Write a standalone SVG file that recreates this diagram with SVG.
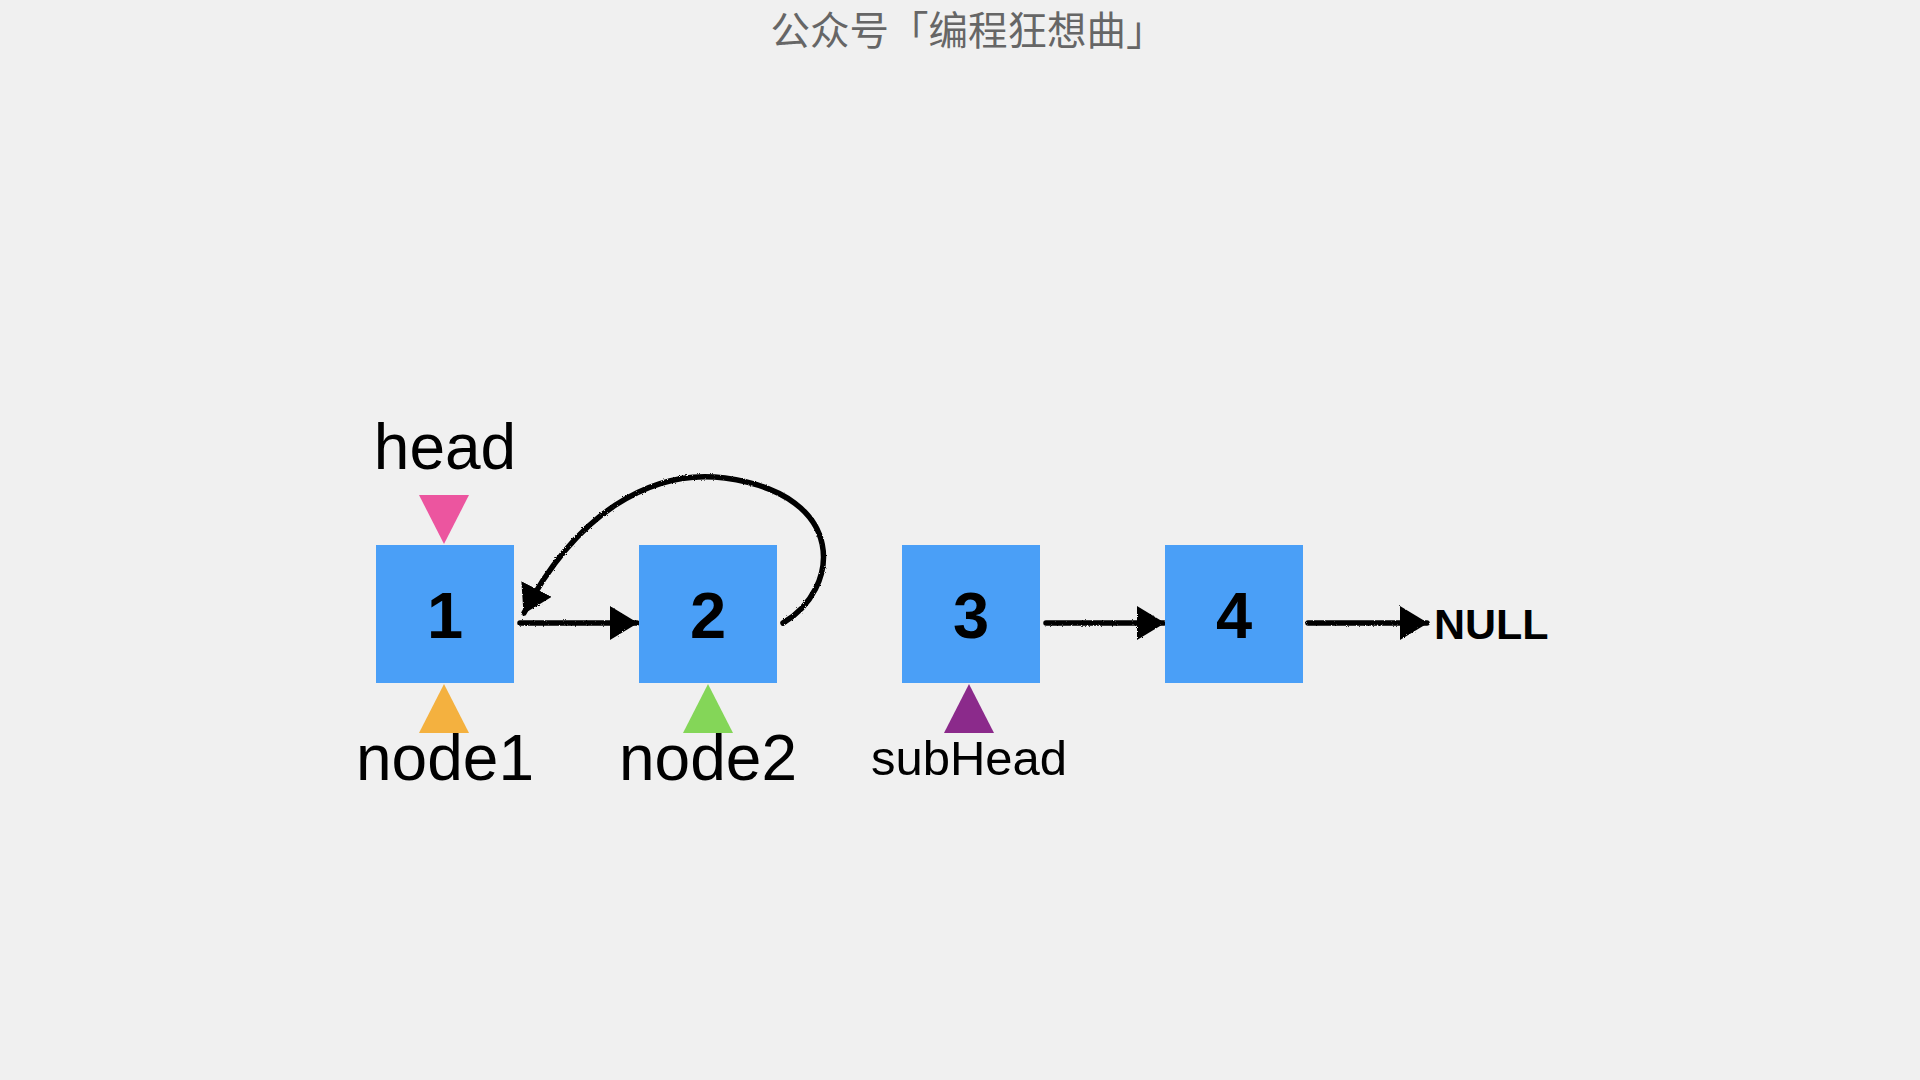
<svg xmlns="http://www.w3.org/2000/svg" width="1920" height="1080" viewBox="0 0 1920 1080">
<style>
.box{fill:#4A9FF7;}
.num{font-family:"Liberation Sans",Arial,sans-serif;font-weight:bold;font-size:65px;fill:#000;text-anchor:middle;}
.lbl{font-family:"Liberation Sans",Arial,sans-serif;font-size:64px;fill:#000;text-anchor:middle;}
.lbl-sm{font-family:"Liberation Sans",Arial,sans-serif;font-size:49px;fill:#000;text-anchor:middle;}
.edge{fill:none;stroke:#000;stroke-width:5.5;stroke-linecap:round;filter:url(#rough);}
.title{font-family:"Noto Sans CJK SC","Noto Sans",sans-serif;font-size:39.5px;font-weight:normal;fill:#666;text-anchor:middle;}
</style>
<defs>
<filter id="rough" filterUnits="userSpaceOnUse" x="0" y="0" width="1920" height="1080">
<feTurbulence type="fractalNoise" baseFrequency="0.9" numOctaves="2" result="n"/>
<feDisplacementMap in="SourceGraphic" in2="n" scale="2.5"/>
</filter>
<marker id="arr" viewBox="0 0 28 34" refX="27" refY="17" markerWidth="28" markerHeight="34" markerUnits="userSpaceOnUse" orient="auto">
<path d="M0,0 L28,17 L0,34 Z" fill="#000"/>
</marker>
</defs>
<rect width="1920" height="1080" fill="#F0F0F0"/>
<text class="title" x="968" y="45">公众号「编程狂想曲」</text>
<g id="connectors">
<path class="edge" d="M520,623 L637,623" marker-end="url(#arr)"/>
<path class="edge" d="M1046,623 L1164,623" marker-end="url(#arr)"/>
<path class="edge" d="M1308,623 L1427,623" marker-end="url(#arr)"/>
<path class="edge" d="M783,623 C840,590 850,495 725,478 C650,468 575,515 524,613" marker-end="url(#arr)"/>
</g>
<g id="node1">
<rect class="box" x="376" y="545" width="138" height="138"/>
<text class="num" x="445" y="638">1</text>
</g>
<g id="node2">
<rect class="box" x="639" y="545" width="138" height="138"/>
<text class="num" x="708" y="638">2</text>
</g>
<g id="node3">
<rect class="box" x="902" y="545" width="138" height="138"/>
<text class="num" x="971" y="638">3</text>
</g>
<g id="node4">
<rect class="box" x="1165" y="545" width="138" height="138"/>
<text class="num" x="1234" y="638">4</text>
</g>
<g id="null">
<text x="1434" y="639" font-family="Liberation Sans,Arial,sans-serif" font-weight="bold" font-size="43" fill="#000">NULL</text>
</g>
<g id="head-pointer">
<text class="lbl" x="445" y="469">head</text>
<polygon points="419,495 469,495 444,544" fill="#EC559F"/>
</g>
<g id="node1-pointer">
<polygon points="444,684 419,733 469,733" fill="#F4B13F"/>
<text class="lbl" x="445" y="780">node1</text>
</g>
<g id="node2-pointer">
<polygon points="708,684 683,733 733,733" fill="#84D658"/>
<text class="lbl" x="708" y="780">node2</text>
</g>
<g id="subhead-pointer">
<polygon points="969,684 944,733 994,733" fill="#8B2A8B"/>
<text class="lbl-sm" x="969" y="775">subHead</text>
</g>
</svg>
